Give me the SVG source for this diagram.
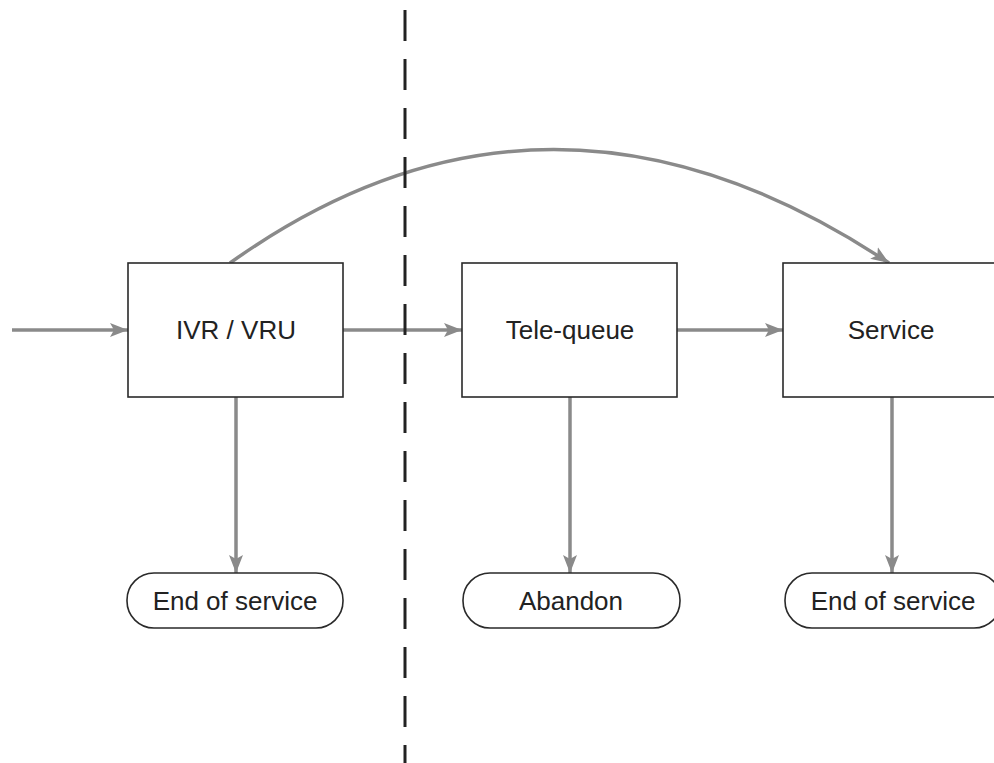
<svg xmlns="http://www.w3.org/2000/svg" width="994" height="763" viewBox="0 0 994 763">
<defs>
<marker id="ah" markerUnits="userSpaceOnUse" markerWidth="20" markerHeight="16" refX="18" refY="8" orient="auto">
<path d="M0,1 L18,8 L0,15 L4,8 z" fill="#8a8a8a"/>
</marker>
<style>
.box{fill:#ffffff;stroke:#2a2a2a;stroke-width:1.6}
.lbl{font-family:"Liberation Sans",Arial,sans-serif;font-size:26px;fill:#222222;text-anchor:middle}
.con{fill:none;stroke:#8a8a8a;stroke-width:3.5;marker-end:url(#ah)}
.div{fill:none;stroke:#222222;stroke-width:3;stroke-dasharray:31 18}
</style>
</defs>
<rect width="994" height="763" fill="#ffffff"/>
<g id="connectors">
<line class="con" x1="12" y1="330" x2="128" y2="330"/>
<line class="con" x1="343" y1="330" x2="462" y2="330"/>
<line class="con" x1="677" y1="330" x2="783" y2="330"/>
<line class="con" x1="236" y1="397" x2="236" y2="573"/>
<line class="con" x1="570" y1="397" x2="570" y2="573"/>
<line class="con" x1="892" y1="397" x2="892" y2="573"/>
<path class="con" d="M230,263 Q548,36 889,263"/>
</g>
<g id="divider">
<line class="div" x1="405" y1="10" x2="405" y2="763"/>
</g>
<g id="ivr">
<rect class="box" x="128" y="263" width="215" height="134"/>
<text class="lbl" x="236" y="339">IVR / VRU</text>
</g>
<g id="telequeue">
<rect class="box" x="462" y="263" width="215" height="134"/>
<text class="lbl" x="570" y="339">Tele-queue</text>
</g>
<g id="service">
<rect class="box" x="783" y="263" width="240" height="134"/>
<text class="lbl" x="891" y="339">Service</text>
</g>
<g id="end1">
<rect class="box" x="127" y="573" width="216" height="55" rx="27" ry="27"/>
<text class="lbl" x="235" y="610">End of service</text>
</g>
<g id="abandon">
<rect class="box" x="463" y="573" width="217" height="55" rx="27" ry="27"/>
<text class="lbl" x="571" y="610">Abandon</text>
</g>
<g id="end2">
<rect class="box" x="785" y="573" width="216" height="55" rx="27" ry="27"/>
<text class="lbl" x="893" y="610">End of service</text>
</g>
</svg>
